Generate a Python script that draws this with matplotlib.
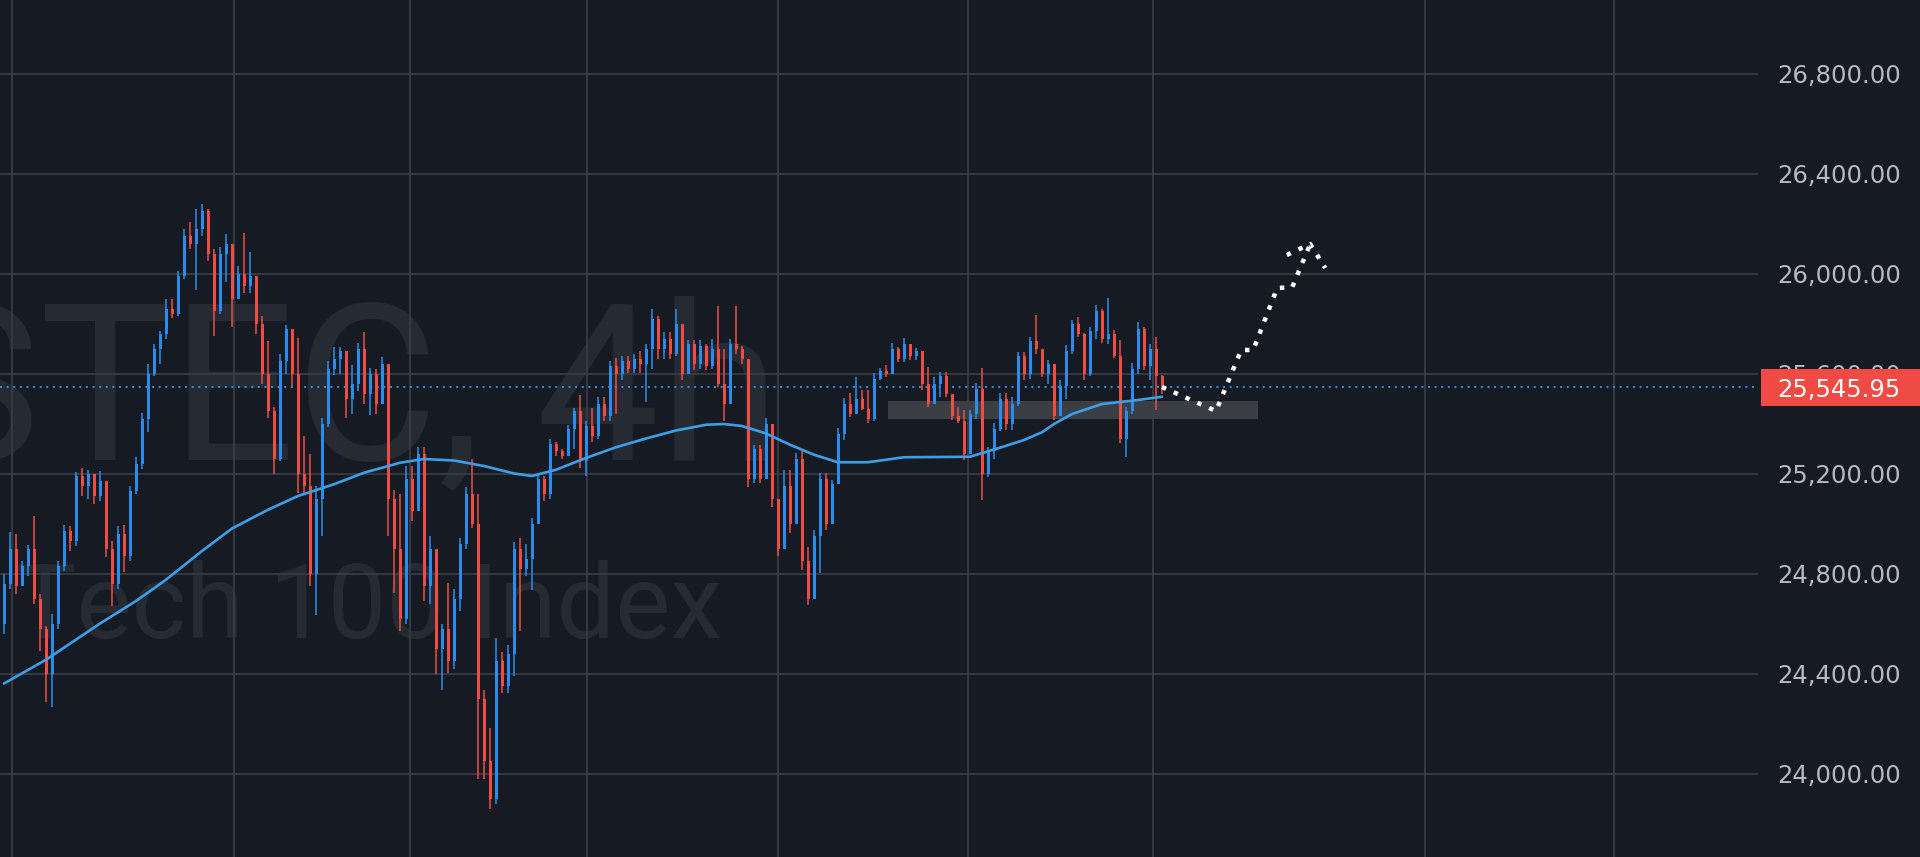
import matplotlib
matplotlib.use("Agg")
import matplotlib.pyplot as plt
from matplotlib.patches import Rectangle
from matplotlib.transforms import blended_transform_factory
import numpy as np

# 4h bars, oldest first. open of each bar = close of the bar before
first_open = 24600
closes = [24760, 24900, 24750, 24830, 24900, 24700, 24580, 24400, 24600, 24830,
          24970, 24930, 25190, 25150, 25200, 25110, 25170, 24900, 24760, 24960,
          24870, 25130, 25240, 25420, 25600, 25700, 25760, 25860, 25840, 25990,
          26150, 26120, 26180, 26250, 26080, 25850, 26080, 26120, 25900, 26000,
          25950, 25990, 25800, 25600, 25450, 25260, 25650, 25780, 25600, 25200,
          25150, 24800, 25100, 25400, 25620, 25660, 25690, 25500, 25560, 25700,
          25520, 25600, 25480, 25640, 25100, 24900, 24620, 25180, 25050, 25280,
          24750, 24900, 24500, 24580, 24450, 24700, 24920, 25120, 25000, 24300,
          24050, 23900, 24450, 24350, 24480, 24900, 24820, 24860, 25000, 25180,
          25120, 25320, 25290, 25270, 25380, 25450, 25250, 25390, 25350, 25480,
          25430, 25630, 25600, 25650, 25620, 25660, 25640, 25700, 25820, 25700,
          25740, 25680, 25800, 25600, 25720, 25640, 25710, 25630, 25700, 25560,
          25480, 25720, 25700, 25660, 25180, 25300, 25180, 25400, 25100, 24900,
          25150, 25000, 25260, 24850, 24700, 24950, 25180, 25000, 25160, 25360,
          25480, 25440, 25500, 25460, 25420, 25580, 25610, 25600, 25700, 25660,
          25720, 25670, 25690, 25560, 25480, 25560, 25590, 25520, 25430, 25410,
          25280, 25440, 25540, 25200, 25290, 25380, 25500, 25400, 25480, 25670,
          25600, 25730, 25700, 25600, 25640, 25430, 25550, 25690, 25800, 25760,
          25600, 25770, 25850, 25740, 25760, 25670, 25340, 25450, 25620, 25780,
          25630, 25700, 25590, 25545.95]
highs = [24800, 24965, 24960, 24850, 24915, 25030, 24720, 24590, 24640, 24850,
         24995, 24990, 25207, 25222, 25215, 25200, 25210, 25170, 24930, 24990,
         24993, 25150, 25265, 25443, 25640, 25720, 25770, 25900, 25900, 26010,
         26179, 26207, 26260, 26279, 26260, 26100, 26107, 26157, 26120, 26029,
         26164, 26086, 25990, 25830, 25729, 25465, 25680, 25793, 25750, 25743,
         25350, 25279, 25150, 25422, 25650, 25707, 25707, 25690, 25636, 25722,
         25765, 25622, 25620, 25665, 25640, 25136, 25120, 25230, 25230, 25306,
         25306, 24950, 24900, 24597, 24762, 24740, 24941, 25148, 25258, 25120,
         24335, 24183, 24542, 24486, 24514, 24927, 24941, 24920, 25024, 25203,
         25189, 25340, 25326, 25300, 25395, 25464, 25513, 25409, 25464, 25506,
         25506, 25650, 25664, 25671, 25671, 25680, 25690, 25719, 25857, 25830,
         25767, 25767, 25857, 25780, 25733, 25733, 25733, 25720, 25740, 25871,
         25698, 25740, 25871, 25712, 25657, 25313, 25313, 25423, 25400, 25079,
         25214, 25214, 25281, 25294, 24907, 24974, 25201, 25201, 25174, 25381,
         25501, 25521, 25587, 25534, 25534, 25601, 25621, 25634, 25721, 25707,
         25741, 25701, 25701, 25674, 25627, 25587, 25607, 25607, 25507, 25467,
         25454, 25454, 25561, 25621, 25307, 25401, 25521, 25521, 25507, 25687,
         25687, 25747, 25834, 25700, 25654, 25640, 25574, 25714, 25814, 25827,
         25761, 25787, 25874, 25860, 25901, 25774, 25734, 25467, 25641, 25807,
         25787, 25720, 25747, 25594]
lows = [24560, 24740, 24720, 24750, 24790, 24680, 24490, 24286, 24265, 24580,
        24810, 24890, 24910, 25110, 25100, 25080, 25090, 24865, 24672, 24740,
        24807, 24850, 25120, 25220, 25365, 25590, 25640, 25740, 25822, 25830,
        25980, 26100, 25936, 26150, 26050, 25750, 25840, 25965, 25786, 25915,
        25922, 25922, 25760, 25557, 25422, 25200, 25250, 25600, 25550, 25122,
        25122, 24750, 24636, 24950, 25386, 25593, 25600, 25422, 25440, 25530,
        25479, 25436, 25440, 25507, 24950, 24722, 24569, 24600, 25010, 25100,
        24690, 24679, 24400, 24335, 24404, 24420, 24650, 24900, 24982, 23977,
        23977, 23860, 23880, 24321, 24321, 24390, 24569, 24790, 24734, 25010,
        25092, 25100, 25270, 25258, 25285, 25300, 25223, 25189, 25327, 25340,
        25409, 25409, 25437, 25575, 25602, 25602, 25602, 25485, 25620, 25657,
        25657, 25660, 25670, 25574, 25600, 25616, 25620, 25616, 25620, 25547,
        25409, 25478, 25680, 25640, 25148, 25161, 25161, 25258, 25065, 24872,
        24907, 24961, 25054, 24814, 24674, 24700, 24801, 24974, 25054, 25241,
        25334, 25427, 25454, 25454, 25401, 25410, 25574, 25587, 25600, 25647,
        25647, 25654, 25654, 25534, 25467, 25507, 25507, 25507, 25414, 25401,
        25254, 25280, 25420, 25094, 25187, 25260, 25370, 25374, 25374, 25470,
        25574, 25580, 25680, 25587, 25560, 25414, 25454, 25500, 25680, 25747,
        25574, 25590, 25740, 25721, 25720, 25661, 25321, 25267, 25440, 25600,
        25614, 25574, 25454, 25520]

# moving average read at a few bars
ma_bar = [0, 7, 16, 22, 27, 33, 38, 44, 49, 55, 60, 66, 70, 75, 80, 85, 88, 92,
          97, 102, 107, 112, 117, 120, 123, 127, 131, 135, 139, 144, 150, 161,
          166.5, 170, 173, 175, 178, 183, 189, 193]
ma_val = [24360, 24455, 24600, 24690, 24775, 24890, 24980, 25055, 25110, 25157,
          25203, 25243, 25258, 25252, 25230, 25200, 25190, 25215, 25262, 25305,
          25340, 25372, 25395, 25398, 25390, 25360, 25315, 25275, 25245, 25245,
          25265, 25267, 25307, 25334, 25365, 25398, 25438, 25478, 25494, 25507]

# drawn forecast path (bar offset, price) and its arrow head
path_bar = [193, 202, 206.2, 208.2, 212.2, 214.7, 217.7]
path_price = [25545.95, 25450, 25694, 25694, 25942, 25945, 26118]
head_bar = [213.8, 217.7, 220.2]
head_price = [26074, 26118, 26022]

# zone box
zone_bar = (147.3, 209.0)
zone_price = (25418, 25490)

price_ticks = [24000, 24400, 24800, 25200, 25600, 26000, 26400, 26800]
time_grid = [1.25, 38.33, 67.67, 97.17, 129, 160.67, 191.5, 236.83, 268.33]

bg = '#161a22'
grid_c = '#393d45'
up_c = '#2a8ded'
dn_c = '#ef4d44'
ma_c = '#3d9ee8'
mark_c = '#262b33'

fig = plt.figure(figsize=(19.2, 8.57), dpi=100, facecolor=bg)
ax = fig.add_axes([0, 0, 1758 / 1920, 1])
ax.set_facecolor(bg)
ax.set_axisbelow(True)

x = np.arange(len(closes))
c = np.array(closes, dtype=float)
o = np.concatenate([[first_open], c[:-1]])
h = np.array(highs, dtype=float)
l = np.array(lows, dtype=float)
cols = np.where(c >= o, up_c, dn_c)

ax.vlines(x, l, h, colors=cols, lw=1.1, zorder=3)
body_h = np.maximum(np.abs(c - o), 8)
ax.bar(x, body_h, bottom=np.minimum(o, c), width=0.5, color=cols, zorder=3,
       linewidth=0)

ax.plot(ma_bar, ma_val, color=ma_c, lw=1.9, zorder=4, solid_capstyle='round',
        solid_joinstyle='round')

ax.add_patch(Rectangle((zone_bar[0], zone_price[0]), zone_bar[1] - zone_bar[0],
                       zone_price[1] - zone_price[0], facecolor='#3b3e45',
                       edgecolor='none', zorder=1))

last = closes[-1]
ax.axhline(last, color='#2f93f0', lw=1.4, ls=(0, (1, 2.4)), zorder=2)

ax.plot(path_bar, path_price, color='white', lw=3.2, ls=(0, (1, 1.9)),
        dash_capstyle='butt', zorder=6)
ax.plot(head_bar, head_price, color='white', lw=3.2, ls=(0, (1, 1.9)),
        dash_capstyle='butt', zorder=6)

# watermark
ax.text(780 / 1758, 1 - 459 / 857, 'USTEC, 4h', transform=ax.transAxes,
        ha='right', va='baseline', fontsize=158, family='Roboto',
        color=mark_c, zorder=0.3)
ax.text(722 / 1758, 1 - 638 / 857, 'US Tech 100 Index', transform=ax.transAxes,
        ha='right', va='baseline', fontsize=75, family='Roboto',
        color=mark_c, zorder=0.3)

ax.set_xlim(-4 / 6, (1758 - 4) / 6)
ax.set_ylim(23666, 27094)
ax.set_xticks(time_grid)
ax.set_yticks(price_ticks)
ax.set_yticklabels([f'{v:,.2f}' for v in price_ticks])
ax.yaxis.tick_right()
ax.tick_params(axis='y', length=0, pad=14, labelsize=17.5, labelcolor='#b6b9c0')
ax.tick_params(axis='x', length=0, labelbottom=False)
ax.grid(True, color=grid_c, lw=1.25)
for s in ax.spines.values():
    s.set_visible(False)

# last price tag
tr = blended_transform_factory(fig.transFigure, ax.transData)
ax.add_patch(Rectangle((1761 / 1920, last - 74), 1 - 1761 / 1920, 148,
                       transform=tr, facecolor='#ef4a43', edgecolor='none',
                       clip_on=False, zorder=10))
ax.text(1777 / 1920, last, f'{last:,.2f}', transform=tr, ha='left',
        va='center_baseline', fontsize=17.5, color='white', clip_on=False,
        zorder=11)

fig.savefig('out.png', dpi=100, facecolor=bg)
